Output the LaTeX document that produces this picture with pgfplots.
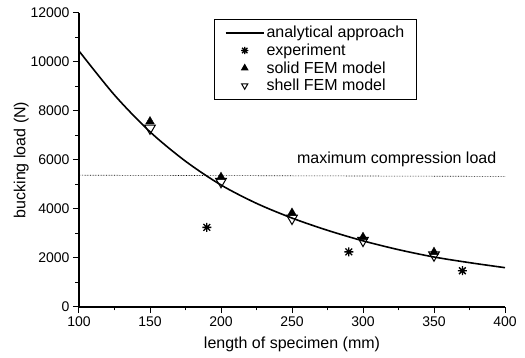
\documentclass[border=0pt]{standalone}
\usepackage{pgfplots}
\pgfplotsset{compat=1.18}
\usepackage{fontspec}
\setmainfont{Liberation Sans}
\pgfdeclareplotmark{ast8}{%
  \pgfpathmoveto{\pgfqpoint{-\pgfplotmarksize}{0pt}}\pgfpathlineto{\pgfqpoint{\pgfplotmarksize}{0pt}}%
  \pgfpathmoveto{\pgfqpoint{0pt}{-\pgfplotmarksize}}\pgfpathlineto{\pgfqpoint{0pt}{\pgfplotmarksize}}%
  \pgfpathmoveto{\pgfqpoint{-0.75\pgfplotmarksize}{-0.75\pgfplotmarksize}}\pgfpathlineto{\pgfqpoint{0.75\pgfplotmarksize}{0.75\pgfplotmarksize}}%
  \pgfpathmoveto{\pgfqpoint{-0.75\pgfplotmarksize}{0.75\pgfplotmarksize}}\pgfpathlineto{\pgfqpoint{0.75\pgfplotmarksize}{-0.75\pgfplotmarksize}}%
  \pgfusepathqstroke}
\begin{document}
\begin{tikzpicture}[x=1pt,y=1pt]
\begin{axis}[
  at={(79pt,51pt)}, anchor=origin,
  scale only axis, width=426pt, height=294pt,
  xmin=100, xmax=400, ymin=0, ymax=12000,
  axis x line=bottom, axis y line=left,
  axis line style={-, line width=1.3pt},
  xtick={100,150,...,400}, ytick={0,2000,...,12000},
  scaled y ticks=false,
  minor x tick num=1, minor y tick num=1,
  tick align=outside,
  major tick length=6pt, minor tick length=3.5pt,
  every tick/.style={line width=1pt, black},
  /pgf/number format/1000 sep={},
  /pgf/number format/assume math mode=true,
  tick label style={font=\fontsize{14}{16}\selectfont},
  label style={font=\fontsize{16}{18}\selectfont},
  xlabel={length of specimen (mm)},
  ylabel={bucking load (N)},
  xlabel style={yshift=-4pt},
  ylabel style={yshift=-5pt},
  clip=false,
  legend style={at={(rel axis cs:0.318,0.98)}, anchor=north west,
    draw=black, line width=0.9pt, fill=white,
    font=\fontsize{16}{18}\selectfont,
    inner xsep=10pt, inner ysep=5pt, row sep=0.5pt,
    /tikz/every even column/.append style={column sep=-3pt}},
  legend cell align=left,
  legend image post style={mark size=3.6pt},
  legend image code/.code={\draw[mark repeat=2,mark phase=2,#1] plot coordinates {(0pt,0pt) (19pt,0pt) (38pt,0pt)};},
]
\addplot[black, line width=1.6pt, smooth, no markers] coordinates {
(100,10450) (125,8650) (150,7150) (175,5950) (200,4980) (225,4230)
(250,3630) (275,3130) (300,2700) (325,2340) (350,2040) (375,1810) (400,1605)};
\addlegendentry{analytical approach}
\addplot[only marks, mark=ast8, mark size=4.5pt, line width=1.3pt, black] coordinates {
(190,3250) (290,2250) (370,1480)};
\addlegendentry{experiment}
\addplot[only marks, mark=triangle*, mark size=5pt, black, mark options={fill=black}] coordinates {
(150,7570) (200,5300) (250,3840) (300,2850) (350,2240)};
\addlegendentry{solid FEM model}
\addplot[only marks, mark=triangle, mark size=6.2pt, black, line width=1pt, mark options={rotate=180, fill=white}] coordinates {
(150,7300) (200,5120) (250,3620) (300,2720) (350,2120)};
\addlegendentry{shell FEM model}
\addplot[black, densely dotted, line width=0.6pt, forget plot] coordinates {(100,5380) (400,5330)};
\node[anchor=south east, font=\fontsize{16}{18}\selectfont, inner sep=0pt] at (axis cs:394,5700) {maximum compression load};
\end{axis}
\path (0,0) rectangle (525,358);
\end{tikzpicture}
\end{document}
